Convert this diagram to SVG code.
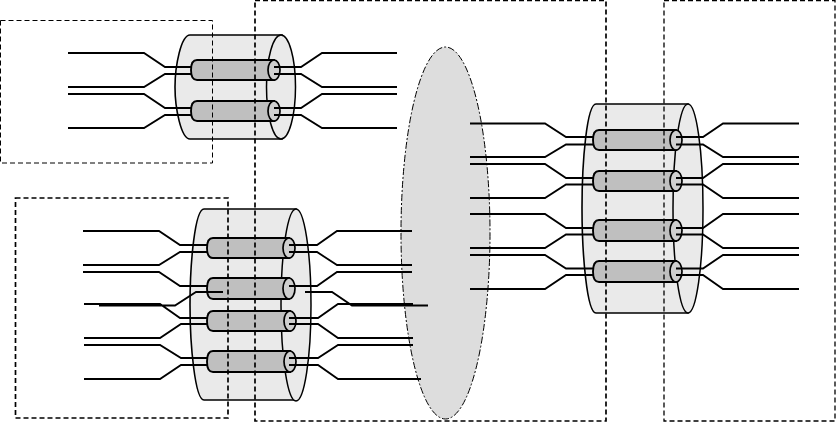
<svg xmlns="http://www.w3.org/2000/svg" width="836" height="423" viewBox="0 0 836 423">
<style>
.o{fill:#eaeaea;stroke:#000;stroke-width:1.6}
.f{fill:#eaeaea;stroke:#000;stroke-width:1.5}
.t{fill:#bfbfbf;stroke:#000;stroke-width:1.9}
.c{fill:#cfcfcf;stroke:#000;stroke-width:1.7}
.w{fill:none;stroke:#000;stroke-width:1.8}
.d1{fill:none;stroke:#000;stroke-width:1;stroke-dasharray:5 3}
.d2{fill:none;stroke:#000;stroke-width:1.7;stroke-dasharray:5 3}
.d3{fill:none;stroke:#000;stroke-width:1.3;stroke-dasharray:5 3}
</style>
<rect width="836" height="423" fill="#fff"/>
<g id="cloud"><ellipse cx="445.500" cy="233" rx="44.500" ry="186" fill="#dddddd" stroke="#000" stroke-width="1" stroke-dasharray="7 2 2 2"/></g>
<g id="bundle-top">
<path class="o" d="M190 35H282V139H190C181 139 175 108 175 87C175 66 181 35 190 35Z"/>
<ellipse class="f" cx="281" cy="87" rx="14.500" ry="52"/>
<path class="t" d="M197 60H274V80H197Q191 80 191 70Q191 60 197 60Z"/><ellipse class="c" cx="274" cy="70" rx="6" ry="10"/>
<path class="t" d="M197 101H274V121H197Q191 121 191 111Q191 101 197 101Z"/><ellipse class="c" cx="274" cy="111" rx="6" ry="10"/>
</g>
<g id="bundle-bottom">
<path class="o" d="M204 209H296V400H204C195 400 190 345 190 305C190 262 195 209 204 209Z"/>
<ellipse class="f" cx="296" cy="305" rx="15" ry="96"/>
<path class="t" d="M213 238H289V258H213Q207 258 207 248Q207 238 213 238Z"/><ellipse class="c" cx="289" cy="248" rx="6" ry="10"/>
<path class="t" d="M213 278H289V299H213Q207 299 207 288.500Q207 278 213 278Z"/><ellipse class="c" cx="289" cy="288.500" rx="6" ry="10.500"/>
<path class="t" d="M213 311H290V331H213Q207 331 207 321Q207 311 213 311Z"/><ellipse class="c" cx="290" cy="321" rx="6" ry="10"/>
<path class="t" d="M213 351H290V372H213Q207 372 207 361.500Q207 351 213 351Z"/><ellipse class="c" cx="290" cy="361.500" rx="6" ry="10.500"/>
</g>
<g id="bundle-right">
<path class="o" d="M596 104H688V313H596C587 313 582 255 582 208C582 160 587 104 596 104Z"/>
<ellipse class="f" cx="688" cy="208.500" rx="15" ry="104.500"/>
<path class="t" d="M599 130H676V150H599Q593 150 593 140Q593 130 599 130Z"/><ellipse class="c" cx="676" cy="140" rx="6" ry="10"/>
<path class="t" d="M599 171H676V191H599Q593 191 593 181Q593 171 599 171Z"/><ellipse class="c" cx="676" cy="181" rx="6" ry="10"/>
<path class="t" d="M599 220H676V241H599Q593 241 593 230.500Q593 220 599 220Z"/><ellipse class="c" cx="676" cy="230.500" rx="6" ry="10.500"/>
<path class="t" d="M599 261H676V282H599Q593 282 593 271.500Q593 261 599 261Z"/><ellipse class="c" cx="676" cy="271.500" rx="6" ry="10.500"/>
</g>
<g id="connectors" class="w">
<path d="M68 53H144L165 67H191M68 87H144L165 74H191M68 94H144L165 108H191M68 128H144L165 115H191"/>
<path d="M274 67H301L322 53H397M274 74H301L322 87H397M274 108H301L322 94H397M274 115H301L322 128H397"/>
<path d="M83 231H159L180 245H207M83 265H159L180 252H207M83 272H159L180 286H207M99 305.500H175L196 292H223M84 304H160L180 318H207M84 338H160L181 324H207M84 345H160L181 358H207M84 379H160L181 365H207"/>
<path d="M289 245H317L337 231H412M289 252H317L337 265H412M289 286H317L337 272H412M305 292H332L352 305.500H428M289 318H318L338 304H413M289 324H318L338 338H413M289 358H318L338 345H413M289 365H318L338 379H421"/>
<path d="M470 123.500H545L566 137H593M470 157H545L566 144.500H593M470 164H545L566 178H593M470 198H545L566 184.500H593M470 214H545L566 228H593M470 248H545L566 234.500H593M470 255H545L566 268.500H593M470 289H545L566 275H593"/>
<path d="M676 137H703L723 123.500H799M676 144.500H703L723 157H799M676 178H703L723 164H799M676 184.500H703L723 198H799M676 228H703L723 214H799M676 234.500H703L723 248H799M676 268.500H703L723 255H799M676 275H703L723 289H799"/>
</g>
<g id="domain-a"><rect class="d1" x="0.500" y="20.500" width="212" height="142.500"/></g>
<g id="domain-b"><rect class="d2" x="15.500" y="198" width="212.500" height="220"/></g>
<g id="domain-c"><rect class="d2" x="255" y="0.500" width="351" height="420.500"/></g>
<g id="domain-d"><rect class="d3" x="664" y="0.500" width="171" height="420.500"/></g>
</svg>
